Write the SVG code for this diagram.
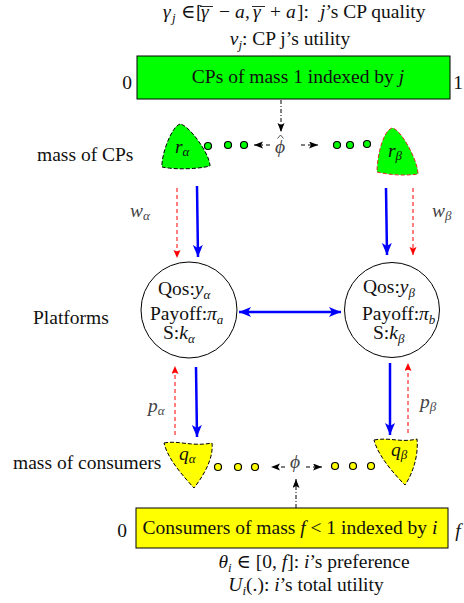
<svg xmlns="http://www.w3.org/2000/svg" width="464" height="603" viewBox="0 0 464 603" font-family="'Liberation Serif', 'Times New Roman', 'DejaVu Serif', serif">
<style>
text{font-family:'Liberation Serif','Times New Roman','DejaVu Serif',serif;font-size:19.5px;fill:#111}
.i{font-style:italic}
.s{font-size:13px;font-style:italic}
.g{fill:#444}
.box{stroke:#000;stroke-width:1}
.blob{stroke:#000;stroke-width:1;stroke-dasharray:4,2}
.dotg{fill:#00ff00;stroke:#000;stroke-width:1.2}
.doty{fill:#ffff00;stroke:#000;stroke-width:1.2}
.blue{stroke:#0000ff;stroke-width:2.5;fill:none}
.red{stroke:#ff0000;stroke-width:1;stroke-dasharray:4,3;fill:none}
.dd{stroke:#000;stroke-width:1;stroke-dasharray:4,2,1,2;fill:none}
.hd{stroke:#000;stroke-width:1;stroke-dasharray:4,3;fill:none}
.ol{stroke:#111;stroke-width:0.9;fill:none}
</style>
<defs>
<marker id="mk" markerUnits="userSpaceOnUse" markerWidth="10" markerHeight="8" refX="9" refY="3.5" orient="auto"><path d="M0,0 L9,3.5 L0,7 L2,3.5 Z" fill="#000"/></marker>
<marker id="mb" markerUnits="userSpaceOnUse" markerWidth="13" markerHeight="11" refX="12" refY="5" orient="auto-start-reverse"><path d="M0,0 L12,5 L0,10 L3,5 Z" fill="#0000ff"/></marker>
<marker id="mr" markerUnits="userSpaceOnUse" markerWidth="9" markerHeight="8" refX="8" refY="3.5" orient="auto"><path d="M0,0 L8,3.5 L0,7 L1.5,3.5 Z" fill="#ff0000"/></marker>
</defs>

<g id="cp-info">
<text x="163" y="18" class="i">γ</text><text x="172" y="22" class="s">j</text>
<text x="181" y="18" font-size="18">∈</text>
<text x="196" y="18">[</text>
<text x="201" y="18" class="i">γ</text><line class="ol" x1="200" y1="6.5" x2="213" y2="6.5"/>
<text x="219" y="18">−</text>
<text x="235" y="18" class="i">a</text><text x="245" y="18">,</text>
<text x="253" y="18" class="i">γ</text><line class="ol" x1="252" y1="6.5" x2="265" y2="6.5"/>
<text x="270" y="18">+</text>
<text x="286" y="18" class="i">a</text>
<text x="297" y="18">]:</text>
<text x="320" y="18"><tspan class="i">j</tspan>’s CP quality</text>
<text x="290" y="45" text-anchor="middle"><tspan class="i">v</tspan><tspan class="s" dy="4">j</tspan><tspan dy="-4">: CP j’s utility</tspan></text>
</g>

<g id="cp-box">
<rect class="box" x="137" y="56" width="313" height="43" fill="#00ff00"/>
<text x="298" y="83" text-anchor="middle" font-size="20">CPs of mass 1 indexed by <tspan class="i">j</tspan></text>
<text x="127" y="89" text-anchor="middle">0</text>
<text x="458" y="89" text-anchor="middle">1</text>
</g>

<g id="cp-mass">
<text x="37" y="161">mass of CPs</text>
<text x="280" y="153" text-anchor="middle" class="i g" font-size="21">ϕ</text>
<polyline class="ol" points="277.5,138.5 280.5,135 283.5,138.5" style="stroke:#444"/>
<circle class="dotg" cx="208" cy="146" r="3.5"/>
<circle class="dotg" cx="228" cy="145" r="3.5"/>
<circle class="dotg" cx="244" cy="145" r="3.5"/>
<circle class="dotg" cx="337" cy="145" r="3.5"/>
<circle class="dotg" cx="350" cy="145" r="3.5"/>
<circle class="dotg" cx="367" cy="144" r="3.5"/>
</g>

<g id="r-alpha">
<path class="blob" d="M180,124 C171,127 161,156 162,167 C176,170 198,169 210,166 C210,154 189,125 180,124 Z" fill="#00ff00"/>
<text x="175" y="153" font-size="18"><tspan class="i">r</tspan><tspan class="s" dy="3">α</tspan></text>
</g>

<g id="r-beta">
<path class="blob" d="M392,128 C383,131 377,156 377,172 C390,175 405,176 418,174 C418,160 400,128 392,128 Z" fill="#00ff00" style="stroke:#e03030"/>
<text x="388" y="157" font-size="18"><tspan class="i">r</tspan><tspan class="s" dy="3">β</tspan></text>
</g>

<g id="platform-alpha">
<circle cx="189" cy="310" r="48" fill="#fff" stroke="#000" stroke-width="1"/>
<text x="158" y="295">Qos:<tspan class="i">y</tspan><tspan class="s" dy="4">α</tspan></text>
<text x="150" y="320">Payoff:<tspan class="i">π</tspan><tspan class="s" dy="4">a</tspan></text>
<text x="163" y="339">S:<tspan class="i">k</tspan><tspan class="s" dy="4">α</tspan></text>
</g>

<g id="platform-beta">
<circle cx="392" cy="310" r="47.5" fill="#fff" stroke="#000" stroke-width="1"/>
<text x="363" y="293">Qos:<tspan class="i">y</tspan><tspan class="s" dy="4">β</tspan></text>
<text x="362" y="320">Payoff:<tspan class="i">π</tspan><tspan class="s" dy="4">b</tspan></text>
<text x="373" y="339">S:<tspan class="i">k</tspan><tspan class="s" dy="4">β</tspan></text>
</g>

<g id="platforms-label"><text x="33" y="324">Platforms</text></g>

<g id="q-alpha">
<path class="blob" d="M164,443 C178,440 192,447 212,443 C214,460 201,479 194,488 C185,478 168,460 164,443 Z" fill="#ffff00"/>
<text x="179" y="460" font-size="18"><tspan class="i">q</tspan><tspan class="s" dy="3">α</tspan></text>
</g>

<g id="q-beta">
<path class="blob" d="M374,440 C390,437 401,443 417,439 C419,459 410,478 405,485 C395,475 378,456 374,440 Z" fill="#ffff00"/>
<text x="391" y="456" font-size="18"><tspan class="i">q</tspan><tspan class="s" dy="3">β</tspan></text>
</g>

<g id="consumer-mass">
<text x="13" y="469">mass of consumers</text>
<text x="295" y="468" text-anchor="middle" class="i g" font-size="21">ϕ</text>
<circle class="doty" cx="218" cy="467" r="3.5"/>
<circle class="doty" cx="238" cy="467" r="3.5"/>
<circle class="doty" cx="255" cy="467" r="3.5"/>
<circle class="doty" cx="335" cy="466" r="3.5"/>
<circle class="doty" cx="353" cy="466" r="3.5"/>
<circle class="doty" cx="371" cy="466" r="3.5"/>
</g>

<g id="consumer-box">
<rect class="box" x="136" y="508" width="312" height="40" fill="#ffff00"/>
<text x="290" y="534" text-anchor="middle" font-size="20">Consumers of mass <tspan class="i">f</tspan> &lt; 1 indexed by <tspan class="i">i</tspan></text>
<text x="122" y="537" text-anchor="middle">0</text>
<text x="458" y="537" text-anchor="middle" class="i">f</text>
</g>

<g id="consumer-info">
<text x="314" y="568" text-anchor="middle"><tspan class="i">θ</tspan><tspan class="s" dy="4">i</tspan><tspan dy="-4"> ∈ [0, </tspan><tspan class="i">f</tspan>]: <tspan class="i">i</tspan>’s preference</text>
<text x="306" y="591" text-anchor="middle"><tspan class="i">U</tspan><tspan class="s" dy="4">i</tspan><tspan dy="-4">(.): </tspan><tspan class="i">i</tspan>’s total utility</text>
</g>

<g id="connectors">
<line class="dd" x1="281" y1="100" x2="281" y2="132" marker-end="url(#mk)"/>
<line class="hd" x1="270" y1="145" x2="254" y2="145" marker-end="url(#mk)"/>
<line class="hd" x1="301" y1="145" x2="318" y2="145" marker-end="url(#mk)"/>
<line class="dd" x1="296" y1="508" x2="296" y2="479" marker-end="url(#mk)"/>
<line class="hd" x1="285" y1="467" x2="271" y2="467" marker-end="url(#mk)"/>
<line class="hd" x1="306" y1="467" x2="322" y2="467" marker-end="url(#mk)"/>

<line class="blue" x1="197" y1="186" x2="198" y2="257" marker-end="url(#mb)"/>
<line class="red" x1="177" y1="188" x2="177" y2="258" marker-end="url(#mr)"/>
<line class="blue" x1="386" y1="188" x2="387" y2="255" marker-end="url(#mb)"/>
<line class="red" x1="413" y1="188" x2="413" y2="255" marker-end="url(#mr)"/>

<line class="blue" x1="239" y1="312" x2="341" y2="312" marker-start="url(#mb)" marker-end="url(#mb)"/>

<line class="red" x1="175" y1="435" x2="175" y2="366" marker-end="url(#mr)"/>
<line class="blue" x1="196" y1="367" x2="197" y2="437" marker-end="url(#mb)"/>
<line class="blue" x1="390" y1="363" x2="390" y2="435" marker-end="url(#mb)"/>
<line class="red" x1="408" y1="433" x2="408" y2="363" marker-end="url(#mr)"/>

<text x="130" y="217" class="i g">w<tspan class="s" dy="3">α</tspan></text>
<text x="432" y="217" class="i g">w<tspan class="s" dy="3">β</tspan></text>
<text x="148" y="412" class="i g">p<tspan class="s" dy="3">α</tspan></text>
<text x="420" y="408" class="i g">p<tspan class="s" dy="3">β</tspan></text>
</g>
</svg>
